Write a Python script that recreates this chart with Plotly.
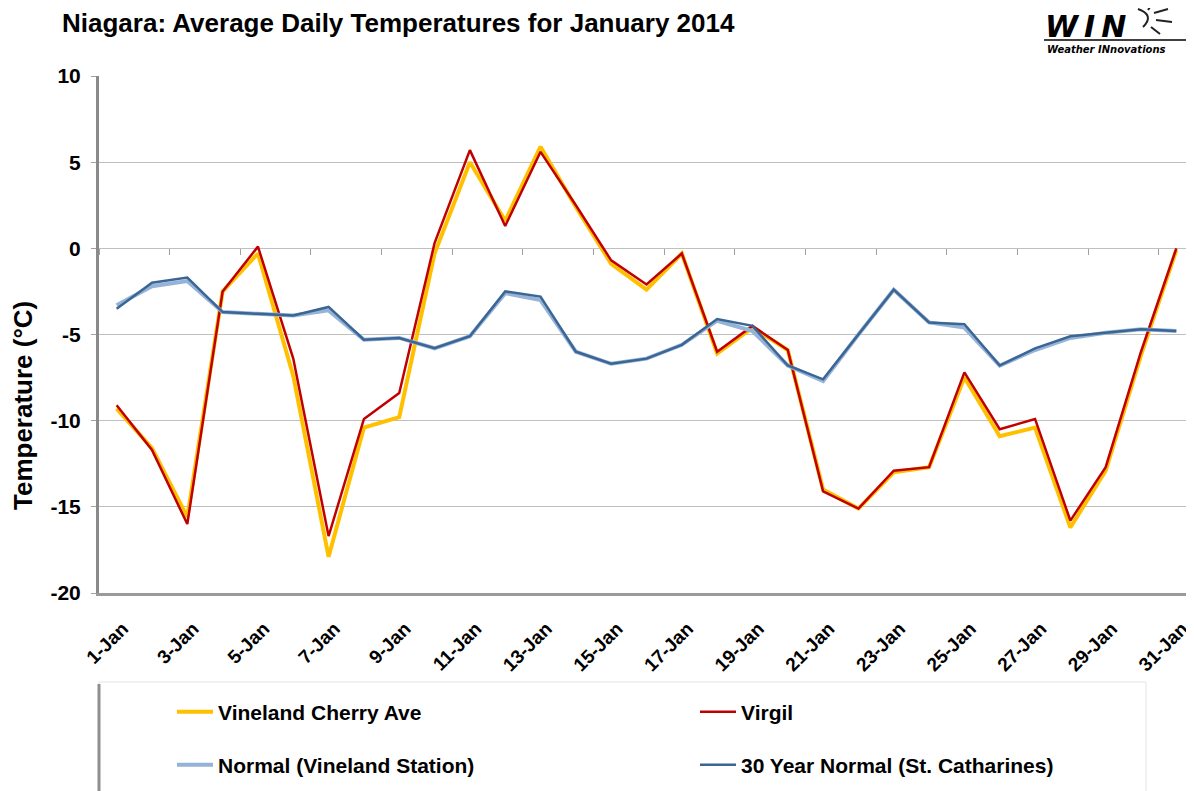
import plotly.graph_objects as go

# ---------------- data ----------------
day_numbers = list(range(1, 32))
day_labels = [f"{d}-Jan" for d in day_numbers]

vineland_cherry_ave = [-9.3, -11.6, -15.6, -2.5, -0.3, -7.4, -17.9, -10.4, -9.8, -0.3,
                       5.0, 1.6, 5.9, 2.4, -0.9, -2.4, -0.3, -6.1, -4.6, -5.9,
                       -14.0, -15.1, -13.0, -12.7, -7.5, -10.9, -10.4, -16.2, -12.9, -6.2, -0.1]
virgil = [-9.1, -11.7, -16.0, -2.5, 0.1, -6.4, -16.7, -9.9, -8.4, 0.3,
          5.7, 1.3, 5.6, 2.5, -0.7, -2.1, -0.3, -6.0, -4.5, -5.9,
          -14.1, -15.1, -12.9, -12.7, -7.2, -10.5, -9.9, -15.8, -12.7, -6.0, 0.0]
normal_vineland_station = [-3.3, -2.2, -1.9, -3.7, -3.8, -3.9, -3.6, -5.3, -5.2, -5.8,
                           -5.1, -2.6, -3.0, -6.0, -6.7, -6.4, -5.6, -4.2, -4.8, -6.8,
                           -7.7, -5.0, -2.4, -4.3, -4.6, -6.8, -5.9, -5.2, -4.9, -4.7, -4.8]
normal_30yr_st_catharines = [-3.5, -2.0, -1.7, -3.7, -3.8, -3.9, -3.4, -5.3, -5.2, -5.8,
                             -5.1, -2.5, -2.8, -6.0, -6.7, -6.4, -5.6, -4.1, -4.5, -6.8,
                             -7.6, -5.0, -2.4, -4.3, -4.4, -6.8, -5.8, -5.1, -4.9, -4.7, -4.8]

tick_days = day_numbers[::2]
tick_labels = day_labels[::2]
y_tick_values = [-20, -15, -10, -5, 0, 5, 10]
y_tick_labels = ["-20", "-15", "-10", "-5", "0", "5", "10"]

# ---------------- layout geometry ----------------
W, H = 1194, 791
OX, OY = 8, 8            # the html page body adds an 8px margin around the figure
PLOT_L, PLOT_T = 99, 76  # target on-screen plot area
PW, PH = 1095, 517
ML, MT = PLOT_L - OX, PLOT_T - OY
MR = W - ML - PW
MB = H - MT - PH


def px_x(px):
    """on-screen x pixel -> paper fraction"""
    return (px - OX - ML) / PW


def px_y(py):
    """on-screen y pixel -> paper fraction"""
    return (MT + PH - (py - OY)) / PH


FONT = "Liberation Sans, Arial, sans-serif"

fig = go.Figure()
fig.add_trace(go.Scatter(x=day_numbers, y=vineland_cherry_ave, mode="lines",
                         name="Vineland Cherry Ave", line=dict(color="#FFC000", width=4),
                         legend="legend"))
fig.add_trace(go.Scatter(x=day_numbers, y=virgil, mode="lines",
                         name="Virgil", line=dict(color="#C00000", width=2.5),
                         legend="legend2"))
fig.add_trace(go.Scatter(x=day_numbers, y=normal_vineland_station, mode="lines",
                         name="Normal (Vineland Station)", line=dict(color="#95B3D7", width=4),
                         legend="legend3"))
fig.add_trace(go.Scatter(x=day_numbers, y=normal_30yr_st_catharines, mode="lines",
                         name="30 Year Normal (St. Catharines)", line=dict(color="#3A6594", width=2.5),
                         legend="legend4"))
# invisible helper so the zero-line tick axis (x2) is drawn
fig.add_trace(go.Scatter(x=[day_numbers[0]], y=[0], xaxis="x2", mode="lines",
                         line=dict(width=0), showlegend=False, hoverinfo="skip"))

legend_common = dict(orientation="h", bgcolor="rgba(0,0,0,0)",
                     font=dict(family=FONT, size=21, color="#000000", weight="bold"),
                     xanchor="left", yanchor="middle", itemwidth=36)

fig.update_layout(
    width=W, height=H,
    margin=dict(l=ML, r=MR, t=MT, b=MB),
    paper_bgcolor="white", plot_bgcolor="white",
    title=dict(text="Niagara: Average Daily Temperatures for January 2014",
               x=(62 - OX) / W, xanchor="left", xref="container",
               y=1 - (23 - OY) / H, yanchor="middle", yref="container",
               font=dict(family=FONT, size=26, color="#000000", weight="bold")),
    xaxis=dict(range=[0.5, 31.5], tickmode="array", tickvals=tick_days, ticktext=tick_labels,
               tickangle=-45, showgrid=False, zeroline=False, automargin=False,
               showline=True, linecolor="#9a9a9a", linewidth=3,
               ticks="outside", ticklen=6, tickcolor="rgba(0,0,0,0)",
               ticklabelstandoff=8, ticklabelshift=6,
               tickfont=dict(family=FONT, size=19, color="#000000", weight="bold")),
    xaxis2=dict(range=[0.5, 31.5], overlaying="x", anchor="free", position=2 / 3,
                side="bottom", tickmode="array", tickvals=[d + 0.5 for d in range(0, 31, 2)],
                ticks="outside", ticklen=6, tickcolor="#a0a0a0", tickwidth=1,
                showticklabels=False, showgrid=False, zeroline=False, showline=False,
                automargin=False),
    yaxis=dict(range=[-20, 10], tickmode="array", tickvals=y_tick_values, ticktext=y_tick_labels,
               showgrid=True, gridcolor="#c0c0c0", gridwidth=1, zeroline=False, automargin=False,
               showline=True, linecolor="#8a8a8a", linewidth=3,
               ticks="outside", ticklen=5, tickcolor="#a0a0a0", ticklabelstandoff=6,
               tickfont=dict(family=FONT, size=21, color="#000000", weight="bold")),
    legend=dict(x=px_x(172), y=px_y(712), **legend_common),
    legend2=dict(x=px_x(695), y=px_y(712), **legend_common),
    legend3=dict(x=px_x(172), y=px_y(765), **legend_common),
    legend4=dict(x=px_x(695), y=px_y(765), **legend_common),
    showlegend=True,
)

# y-axis title (Excel places it slightly below the plot centre)
fig.add_annotation(text="Temperature (°C)", textangle=-90, xref="paper", yref="paper",
                   x=px_x(23), y=px_y(406), xanchor="center", yanchor="middle", showarrow=False,
                   font=dict(family=FONT, size=26, color="#000000", weight="bold"))

# legend frame
fig.add_shape(type="rect", xref="paper", yref="paper",
              x0=px_x(99), x1=px_x(1146), y0=px_y(805), y1=px_y(682),
              line=dict(color="#e4e4e4", width=1), fillcolor="rgba(0,0,0,0)", layer="below")
fig.add_shape(type="line", xref="paper", yref="paper",
              x0=px_x(99), x1=px_x(99), y0=px_y(805), y1=px_y(684),
              line=dict(color="#8f8f8f", width=3))

# WIN logo
fig.add_annotation(text="<b><i>W\u2009I\u2009N</i></b>", x=px_x(1043), y=px_y(46),
                   xref="paper", yref="paper",
                   xanchor="left", yanchor="bottom", showarrow=False,
                   font=dict(family="DejaVu Sans", size=30, color="#000000"))
fig.add_annotation(text="<b><i>Weather INnovations</i></b>", x=px_x(1045), y=px_y(42),
                   xref="paper", yref="paper", xanchor="left", yanchor="top", showarrow=False,
                   font=dict(family="DejaVu Sans", size=10, color="#000000"))
fig.add_shape(type="line", xref="paper", yref="paper",
              x0=px_x(1044), x1=px_x(1200), y0=px_y(40), y1=px_y(40),
              line=dict(color="#000000", width=1.5))
# sun of the logo: arc plus rays
fig.add_shape(type="path", xref="paper", yref="paper",
              path=(f"M {px_x(1138)},{px_y(9)} Q {px_x(1155)},{px_y(15)} {px_x(1143)},{px_y(27)}"),
              line=dict(color="#222222", width=2))
for (x0, y0, x1, y1) in [(1154, 13, 1168, 9), (1156, 20, 1172, 22), (1151, 27, 1160, 34),
                         (1148, 10, 1152, 4)]:
    fig.add_shape(type="line", xref="paper", yref="paper",
                  x0=px_x(x0), x1=px_x(x1), y0=px_y(y0), y1=px_y(y1),
                  line=dict(color="#222222", width=2))

fig.write_html("out.html")
